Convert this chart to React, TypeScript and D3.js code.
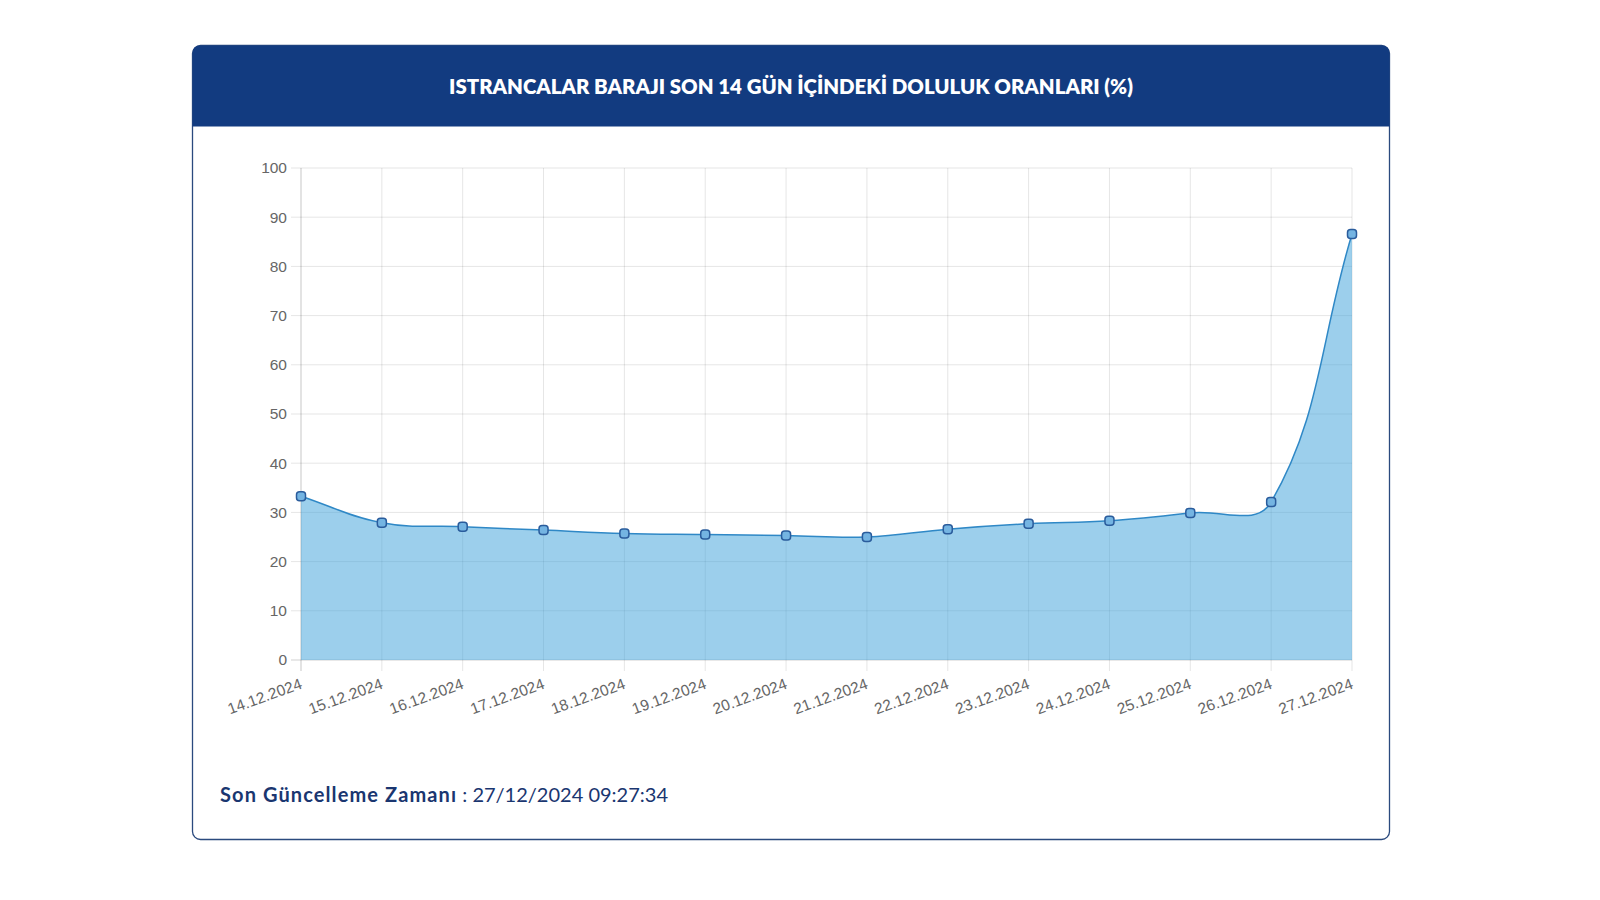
import React, { useEffect, useRef } from "react";
import * as d3 from "d3";

// dam fill rates for the last 14 days (%)
const dates = [
  "14.12.2024", "15.12.2024", "16.12.2024", "17.12.2024", "18.12.2024", "19.12.2024", "20.12.2024",
  "21.12.2024", "22.12.2024", "23.12.2024", "24.12.2024", "25.12.2024", "26.12.2024", "27.12.2024",
];
const fillRates = [33.3, 27.9, 27.1, 26.4, 25.7, 25.5, 25.3, 25.0, 26.6, 27.7, 28.3, 29.9, 32.1, 86.6];
const yTicks = [0, 10, 20, 30, 40, 50, 60, 70, 80, 90, 100];

const title = "ISTRANCALAR BARAJI SON 14 GÜN İÇİNDEKİ DOLULUK ORANLARI (%)";
const updateLabel = "Son Güncelleme Zamanı";
const updateValue = " : 27/12/2024 09:27:34";

const NAVY = "#123b80";

// Chart.js style spline (lineTension), written as a d3 curve
function chartSpline(tension: number, box: { left: number; right: number; top: number; bottom: number }) {
  return (context: any) => {
    let pts: [number, number][] = [];
    return {
      areaStart() {},
      areaEnd() {},
      lineStart() { pts = []; },
      point(x: number, y: number) { pts.push([+x, +y]); },
      lineEnd() {
        const n = pts.length;
        if (!n) return;
        const ctrl = pts.map((cur, i) => {
          const prev = i > 0 ? pts[i - 1] : cur;
          const next = i < n - 1 ? pts[i + 1] : cur;
          const d01 = Math.hypot(cur[0] - prev[0], cur[1] - prev[1]);
          const d12 = Math.hypot(next[0] - cur[0], next[1] - cur[1]);
          let s01 = d01 / (d01 + d12);
          let s12 = d12 / (d01 + d12);
          if (isNaN(s01)) s01 = 0;
          if (isNaN(s12)) s12 = 0;
          const fa = tension * s01;
          const fb = tension * s12;
          const clampX = (v: number) => Math.max(box.left, Math.min(box.right, v));
          const clampY = (v: number) => Math.max(box.top, Math.min(box.bottom, v));
          return {
            px: clampX(cur[0] - fa * (next[0] - prev[0])),
            py: clampY(cur[1] - fa * (next[1] - prev[1])),
            nx: clampX(cur[0] + fb * (next[0] - prev[0])),
            ny: clampY(cur[1] + fb * (next[1] - prev[1])),
          };
        });
        context.moveTo(pts[0][0], pts[0][1]);
        for (let i = 1; i < n; i++) {
          context.bezierCurveTo(ctrl[i - 1].nx, ctrl[i - 1].ny, ctrl[i].px, ctrl[i].py, pts[i][0], pts[i][1]);
        }
      },
    };
  };
}

function FillChart() {
  const ref = useRef<SVGSVGElement>(null);

  useEffect(() => {
    const svg = d3.select(ref.current);
    svg.selectAll("*").remove();

    const card = { left: 192.5, top: 45.5, right: 1389.5, bottom: 839.5 };
    const plot = { left: 301, right: 1352, top: 168, bottom: 660 };

    // card + header
    const cw = card.right - card.left;
    const ch = card.bottom - card.top;
    svg.append("rect")
      .attr("x", card.left).attr("y", card.top)
      .attr("width", cw).attr("height", ch)
      .attr("rx", 8)
      .attr("fill", "#fff")
      .attr("stroke", "#2b4a7e")
      .attr("stroke-width", 1.3);

    const hh = 81;
    const r = 8;
    svg.append("path")
      .attr("d", `M${card.left},${card.top + hh}V${card.top + r}Q${card.left},${card.top} ${card.left + r},${card.top}` +
        `H${card.right - r}Q${card.right},${card.top} ${card.right},${card.top + r}V${card.top + hh}Z`)
      .attr("fill", NAVY);

    svg.append("text")
      .attr("x", (card.left + card.right) / 2)
      .attr("y", card.top + 43)
      .attr("text-anchor", "middle")
      .attr("dominant-baseline", "middle")
      .attr("fill", "#fff")
      .style("font-family", "Lato, 'Open Sans', sans-serif")
      .style("font-weight", 800)
      .style("font-size", "20.4px")
      .text(title);

    // scales
    const x = d3.scalePoint<string>().domain(dates).range([plot.left, plot.right]);
    const y = d3.scaleLinear().domain([0, 100]).range([plot.bottom, plot.top]);

    const grid = svg.append("g");
    grid.selectAll("line.h")
      .data(yTicks)
      .join("line")
      .attr("class", "h")
      .attr("x1", plot.left - 10).attr("x2", plot.right)
      .attr("y1", d => y(d)).attr("y2", d => y(d))
      .attr("stroke", d => (d === 0 ? "rgba(0,0,0,0.18)" : "rgba(0,0,0,0.1)"))
      .attr("stroke-width", 1);
    grid.selectAll("line.v")
      .data(dates)
      .join("line")
      .attr("class", "v")
      .attr("x1", d => x(d)!).attr("x2", d => x(d)!)
      .attr("y1", plot.top).attr("y2", plot.bottom + 11)
      .attr("stroke", (d, i) => (i === 0 ? "rgba(0,0,0,0.22)" : "rgba(0,0,0,0.1)"))
      .attr("stroke-width", 1);

    // y labels
    svg.append("g")
      .selectAll("text")
      .data(yTicks)
      .join("text")
      .attr("x", plot.left - 14)
      .attr("y", d => y(d))
      .attr("dy", "0.35em")
      .attr("text-anchor", "end")
      .attr("fill", "#666")
      .style("font-family", "'Liberation Sans', Arial, sans-serif")
      .style("font-size", "15.5px")
      .text(d => d);

    // x labels (rotated)
    svg.append("g")
      .selectAll("text")
      .data(dates)
      .join("text")
      .attr("transform", d => `translate(${x(d)! + 2},${plot.bottom + 28}) rotate(-20)`)
      .attr("text-anchor", "end")
      .attr("fill", "#666")
      .style("font-family", "'Liberation Sans', Arial, sans-serif")
      .style("font-size", "15.5px")
      .text(d => d);

    // area + line
    const curve = chartSpline(0.4, plot);
    const line = d3.line<number>()
      .x((d, i) => x(dates[i])!)
      .y(d => y(d))
      .curve(curve as any);
    const linePath = line(fillRates)!;
    const areaPath = `${linePath}L${x(dates[dates.length - 1])},${y(0)}L${x(dates[0])},${y(0)}Z`;

    svg.append("path")
      .attr("d", areaPath)
      .attr("fill", "rgba(58,160,218,0.5)");
    svg.append("path")
      .attr("d", linePath)
      .attr("fill", "none")
      .attr("stroke", "#2f88c6")
      .attr("stroke-width", 1.5);

    // points
    svg.append("g")
      .selectAll("rect")
      .data(fillRates)
      .join("rect")
      .attr("x", (d, i) => x(dates[i])! - 4.5)
      .attr("y", d => y(d) - 4.5)
      .attr("width", 9)
      .attr("height", 9)
      .attr("rx", 3)
      .attr("fill", "#74b4e2")
      .attr("stroke", "#2a5c9c")
      .attr("stroke-width", 1.5);

    // footer
    const foot = svg.append("text")
      .attr("x", 220)
      .attr("y", 802)
      .attr("fill", "#1a3670")
      .style("font-family", "Lato, 'Open Sans', sans-serif")
      .style("font-size", "20px");
    foot.append("tspan").style("font-weight", 700).style("letter-spacing", "1.1px").text(updateLabel);
    foot.append("tspan").style("font-weight", 400).style("letter-spacing", "0px").text(updateValue);
  }, []);

  return (
    <svg ref={ref} width={1600} height={900} style={{ position: "absolute", left: 0, top: 0, background: "#fff" }} />
  );
}

export default function App() {
  return <FillChart />;
}
